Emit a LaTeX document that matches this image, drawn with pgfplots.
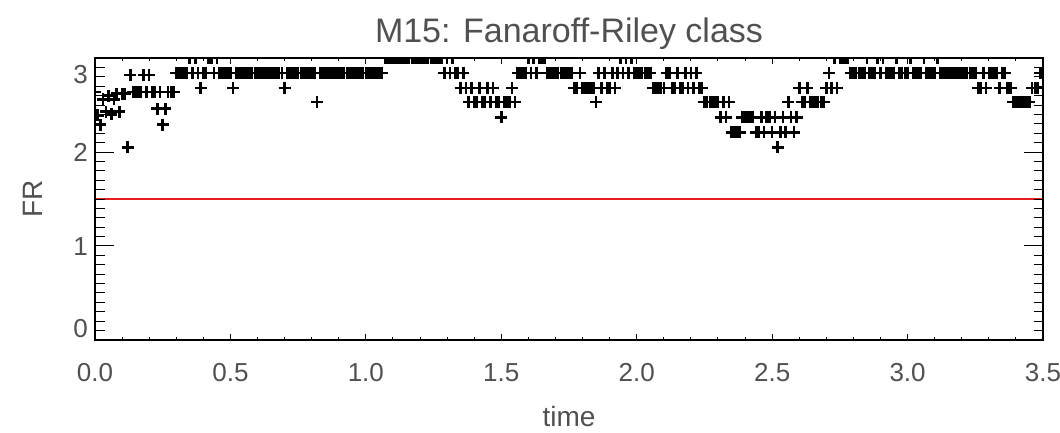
\documentclass[border=0pt]{standalone}
\usepackage{fontspec}
\setmainfont{Liberation Sans}
\usepackage{pgfplots}
\pgfplotsset{compat=1.18}
\definecolor{labelgray}{RGB}{80,80,80}
\definecolor{limitred}{RGB}{232,30,30}

\newcommand{\ticklab}{\fontsize{13}{15}\selectfont}

\begin{document}
\begin{tikzpicture}
\path[use as bounding box] (-47.5pt,-46.5pt) rectangle (482.5pt,170pt);
% data, reference line and time axis
\begin{axis}[
  at={(0pt,0pt)}, anchor=south west,
  scale only axis, width=474pt, height=141pt,
  xmin=0, xmax=3.5, ymin=0, ymax=3,
  clip=true, clip marker paths=true,
  axis line style={line width=0.7pt},
  tick align=inside, tick pos=both,
  xtick={0,0.5,1,1.5,2,2.5,3,3.5},
  xticklabels={0.0,0.5,1.0,1.5,2.0,2.5,3.0,3.5},
  minor x tick num=4,
  ytick=\empty,
  major tick length=2.8pt, minor tick length=1.4pt,
  every tick/.style={line width=0.5pt, black},
  xticklabel style={font=\ticklab, text=labelgray, anchor=center, yshift=-16.5pt},
  every axis title shift=0pt,
  title={M15: Fanaroff-Riley class},
  title style={font=\fontsize{17}{20}\selectfont, text=labelgray,
    at={(axis description cs:0.5,1.0567)}, anchor=base},
  xlabel={time},
  xlabel style={font=\fontsize{14}{16}\selectfont, text=labelgray,
    at={(axis description cs:0.5,-0.273)}, anchor=center},
  ylabel={FR},
  ylabel style={font=\fontsize{14}{16}\selectfont, text=labelgray,
    at={(axis description cs:-0.0654,0.5)}, anchor=center},
]
\addplot[only marks, mark=+, mark size=3pt, line width=1.3pt, black] coordinates {
(0.00,2.64) (0.01,2.39) (0.02,2.29) (0.03,2.56) (0.04,2.43) (0.05,2.60) (0.06,2.40) (0.07,2.56) (0.08,2.62) (0.09,2.43)
(0.10,2.62) (0.11,2.62) (0.12,2.05) (0.13,2.82) (0.14,2.64) (0.15,2.64) (0.16,2.64) (0.17,2.64) (0.18,2.82) (0.19,2.64)
(0.20,2.82) (0.21,2.64) (0.22,2.64) (0.23,2.46) (0.24,2.64) (0.25,2.29) (0.26,2.46) (0.27,2.64) (0.28,2.64) (0.29,2.64)
(0.30,2.84) (0.31,2.84) (0.32,2.84) (0.33,2.84) (0.34,2.84) (0.35,3.00) (0.36,2.84) (0.37,3.00) (0.38,2.84) (0.39,2.68)
(0.40,2.84) (0.41,2.84) (0.42,3.00) (0.43,3.00) (0.44,2.84) (0.45,3.00) (0.46,2.84) (0.47,2.84) (0.48,2.84) (0.49,2.84)
(0.50,2.84) (0.51,2.68) (0.52,2.84) (0.53,2.84) (0.54,2.84) (0.55,2.84) (0.56,2.84) (0.57,2.84) (0.58,2.84) (0.59,2.84)
(0.60,2.84) (0.61,2.84) (0.62,2.84) (0.63,2.84) (0.64,2.84) (0.65,2.84) (0.66,2.84) (0.67,2.84) (0.68,2.84) (0.69,2.84)
(0.70,2.68) (0.71,2.84) (0.72,2.84) (0.73,2.84) (0.74,2.84) (0.75,2.84) (0.76,2.84) (0.77,2.84) (0.78,2.84) (0.79,2.84)
(0.80,2.84) (0.81,2.84) (0.82,2.53) (0.83,2.84) (0.84,2.84) (0.85,2.84) (0.86,2.84) (0.87,2.84) (0.88,2.84) (0.89,2.84)
(0.90,2.84) (0.91,2.84) (0.92,2.84) (0.93,2.84) (0.94,2.84) (0.95,2.84) (0.96,2.84) (0.97,2.84) (0.98,2.84) (0.99,2.84)
(1.00,2.84) (1.01,2.84) (1.02,2.84) (1.03,2.84) (1.04,2.84) (1.05,2.84) (1.06,2.84) (1.07,3.00) (1.08,3.00) (1.09,3.00)
(1.10,3.00) (1.11,3.00) (1.12,3.00) (1.13,3.00) (1.14,3.00) (1.15,3.00) (1.16,3.00) (1.17,3.00) (1.18,3.00) (1.19,3.00)
(1.20,3.00) (1.21,3.00) (1.22,3.00) (1.23,3.00) (1.24,3.00) (1.25,3.00) (1.26,3.00) (1.27,3.00) (1.28,3.00) (1.29,2.84)
(1.30,3.00) (1.31,2.84) (1.32,3.00) (1.33,2.84) (1.34,2.84) (1.35,2.68) (1.36,2.84) (1.37,2.68) (1.38,2.53) (1.39,2.68)
(1.40,2.53) (1.41,2.53) (1.42,2.68) (1.43,2.53) (1.44,2.53) (1.45,2.68) (1.46,2.53) (1.47,2.68) (1.48,2.53) (1.49,2.53)
(1.50,2.37) (1.51,2.53) (1.52,2.53) (1.53,2.53) (1.54,2.68) (1.55,2.53) (1.56,2.84) (1.57,2.84) (1.58,2.84) (1.59,2.84)
(1.60,3.00) (1.61,2.84) (1.62,3.00) (1.63,2.84) (1.64,3.00) (1.65,3.00) (1.66,3.00) (1.67,2.84) (1.68,2.84) (1.69,2.84)
(1.70,2.84) (1.71,2.84) (1.72,2.84) (1.73,2.84) (1.74,2.84) (1.75,2.84) (1.76,2.84) (1.77,2.68) (1.78,2.68) (1.79,2.84)
(1.80,2.68) (1.81,2.68) (1.82,2.68) (1.83,2.68) (1.84,2.68) (1.85,2.53) (1.86,2.84) (1.87,2.68) (1.88,2.84) (1.89,2.68)
(1.90,2.68) (1.91,2.84) (1.92,2.68) (1.93,2.84) (1.94,3.00) (1.95,2.84) (1.96,3.00) (1.97,2.84) (1.98,3.00) (1.99,2.84)
(2.00,2.84) (2.01,2.84) (2.02,2.84) (2.03,2.84) (2.04,2.84) (2.05,2.84) (2.06,2.68) (2.07,2.68) (2.08,2.68) (2.09,2.68)
(2.10,2.68) (2.11,2.84) (2.12,2.84) (2.13,2.68) (2.14,2.68) (2.15,2.84) (2.16,2.68) (2.17,2.68) (2.18,2.84) (2.19,2.68)
(2.20,2.84) (2.21,2.68) (2.22,2.84) (2.23,2.68) (2.24,2.68) (2.25,2.53) (2.26,2.53) (2.27,2.53) (2.28,2.53) (2.29,2.53)
(2.30,2.53) (2.31,2.37) (2.32,2.53) (2.33,2.37) (2.34,2.53) (2.35,2.21) (2.36,2.21) (2.37,2.21) (2.38,2.21) (2.39,2.37)
(2.40,2.37) (2.41,2.37) (2.42,2.37) (2.43,2.37) (2.44,2.21) (2.45,2.21) (2.46,2.37) (2.47,2.21) (2.48,2.37) (2.49,2.37)
(2.50,2.21) (2.51,2.37) (2.52,2.05) (2.53,2.21) (2.54,2.37) (2.55,2.21) (2.56,2.53) (2.57,2.37) (2.58,2.21) (2.59,2.37)
(2.60,2.68) (2.61,2.53) (2.62,2.53) (2.63,2.68) (2.64,2.53) (2.65,2.53) (2.66,2.53) (2.67,2.53) (2.68,2.53) (2.69,2.53)
(2.70,2.68) (2.71,2.84) (2.72,2.68) (2.73,3.00) (2.74,2.68) (2.75,3.00) (2.76,3.00) (2.77,3.00) (2.78,3.00) (2.79,2.84)
(2.80,2.84) (2.81,2.84) (2.82,2.84) (2.83,2.84) (2.84,2.84) (2.85,3.00) (2.86,2.84) (2.87,2.84) (2.88,2.84) (2.89,3.00)
(2.90,2.84) (2.91,3.00) (2.92,2.84) (2.93,2.84) (2.94,2.84) (2.95,2.84) (2.96,3.00) (2.97,2.84) (2.98,2.84) (2.99,2.84)
(3.00,2.84) (3.01,3.00) (3.02,2.84) (3.03,2.84) (3.04,2.84) (3.05,2.84) (3.06,3.00) (3.07,2.84) (3.08,2.84) (3.09,2.84)
(3.10,2.84) (3.11,3.00) (3.12,2.84) (3.13,2.84) (3.14,2.84) (3.15,2.84) (3.16,2.84) (3.17,2.84) (3.18,2.84) (3.19,2.84)
(3.20,2.84) (3.21,2.84) (3.22,2.84) (3.23,2.84) (3.24,2.84) (3.25,2.84) (3.26,2.68) (3.27,2.68) (3.28,2.84) (3.29,2.68)
(3.30,2.84) (3.31,2.84) (3.32,2.84) (3.33,2.84) (3.34,2.68) (3.35,2.84) (3.36,2.84) (3.37,2.68) (3.38,2.68) (3.39,2.53)
(3.40,2.53) (3.41,2.53) (3.42,2.53) (3.43,2.53) (3.44,2.53) (3.45,2.53) (3.46,2.68) (3.47,2.68) (3.48,2.68) (3.49,2.84)
(3.50,2.68)
};
% FR = 1.5 threshold
\addplot[color=limitred, line width=0.7pt, mark=none] coordinates {(0,1.5) (3.5,1.5)};
\end{axis}
% FR axis ticks and labels
\begin{axis}[
  at={(0pt,0pt)}, anchor=south west,
  scale only axis, width=474pt, height=141pt,
  xmin=0, xmax=3.5, ymin=0, ymax=3,
  axis line style={line width=0.7pt},
  tick align=inside, tick pos=both,
  xtick=\empty,
  ytick={0,1,2,3},
  yticklabels={\raisebox{1.3pt}[0pt][0pt]{0},\raisebox{-4.65pt}[0pt][0pt]{1},\raisebox{-4.65pt}[0pt][0pt]{2},\raisebox{-12.6pt}[0pt][0pt]{3}},
  minor y tick num=9,
  major tick length=9.5pt, minor tick length=4.75pt,
  every tick/.style={line width=0.5pt, black},
  yticklabel style={font=\ticklab, text=labelgray, anchor=east},
]
\end{axis}
\end{tikzpicture}
\end{document}
